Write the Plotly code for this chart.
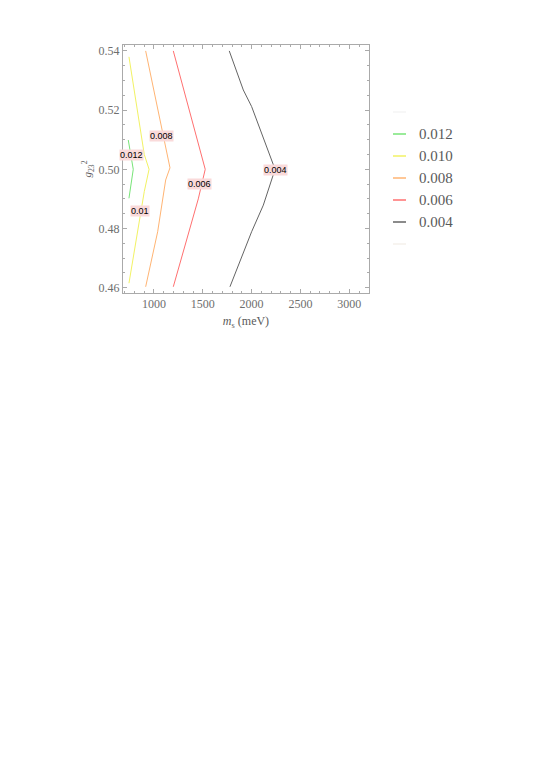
import plotly.graph_objects as go

# contour levels
levels = ["0.012", "0.010", "0.008", "0.006", "0.004"]
label_text = ["0.012", "0.01", "0.008", "0.006", "0.004"]

# contour polylines (m_s in meV, g^2)
green_x = [737, 788, 744]
green_y = [0.5099, 0.5000, 0.4902]
yellow_x = [744, 901, 950, 901, 744]
yellow_y = [0.538, 0.505, 0.500, 0.4925, 0.4615]
orange_x = [915, 1003, 1113, 1164, 1120, 1038, 915]
orange_y = [0.540, 0.5257, 0.5088, 0.5005, 0.4964, 0.4789, 0.4603]
red_x = [1198, 1437, 1525, 1454, 1198]
red_y = [0.540, 0.511, 0.500, 0.490, 0.4603]
black_x = [1771, 1915, 2000, 2240, 2120, 2000, 1778]
black_y = [0.540, 0.5268, 0.5212, 0.500, 0.4879, 0.4789, 0.4603]

# label positions
label_x = [772, 860, 1082, 1471, 2249]
label_y = [0.5047, 0.4859, 0.5112, 0.4951, 0.4997]

xs = [green_x, yellow_x, orange_x, red_x, black_x]
ys = [green_y, yellow_y, orange_y, red_y, black_y]
colors = ["rgb(120,228,120)", "rgb(242,242,100)", "rgb(255,180,115)",
          "rgb(255,112,112)", "rgb(100,100,100)"]

fig = go.Figure()
for x, y, c, name in zip(xs, ys, colors, levels):
    fig.add_trace(go.Scatter(x=x, y=y, mode="lines", name=name,
                             line=dict(color=c, width=1), showlegend=False,
                             hoverinfo="skip"))

for lx, ly, t in zip(label_x, label_y, label_text):
    fig.add_annotation(x=lx, y=ly, text=t, showarrow=False,
                       font=dict(family="Arial", size=9, color="black"),
                       bgcolor="rgb(250,218,218)", borderpad=0)

# page offset from default body margin
OFF = 8
FW, FH = 540 - 2 * OFF, 764 - 2 * OFF
L, R, T, B = 123 - OFF, 369 - OFF, 45 - OFF, 293 - OFF
W, H = R - L, B - T

def px2paper(px, py):
    return (px - OFF - L) / W, (B - (py - OFF)) / H

leg_items = [("", "rgb(245,245,245)")] + list(zip(levels, colors)) + [("", "rgb(245,240,235)")]
y0 = 112
for i, (txt, c) in enumerate(leg_items):
    py = y0 + i * 22
    xa, ya = px2paper(393, py)
    xb, _ = px2paper(406, py)
    fig.add_shape(type="line", xref="paper", yref="paper", x0=xa, x1=xb, y0=ya, y1=ya,
                  line=dict(color=c, width=1.5))
    if txt:
        xt, yt = px2paper(417, py)
        fig.add_annotation(xref="paper", yref="paper", x=xt, y=yt, text=txt,
                           showarrow=False, xanchor="left", yanchor="middle",
                           font=dict(family="Liberation Serif", size=15, color="rgb(90,90,90)"))

axis_common = dict(showline=True, linecolor="rgb(170,170,170)", linewidth=1, mirror="allticks",
                   ticks="inside", ticklen=4, tickcolor="rgb(170,170,170)", showgrid=False,
                   zeroline=False, automargin=False,
                   tickfont=dict(family="Liberation Serif", size=12, color="rgb(110,110,110)"))

fig.update_xaxes(range=[683, 3202], tickvals=[1000, 1500, 2000, 2500, 3000],
                 minor=dict(ticks="inside", ticklen=2, dtick=100, tick0=0,
                            tickcolor="rgb(170,170,170)"),
                 title=dict(text="<i>m</i><sub>s</sub> (meV)", standoff=6,
                            font=dict(family="Liberation Serif", size=12, color="rgb(90,90,90)")),
                 **axis_common)
fig.update_yaxes(range=[0.4582, 0.542], tickvals=[0.46, 0.48, 0.50, 0.52, 0.54],
                 ticktext=["0.46", "0.48", "0.50", "0.52", "0.54"],
                 minor=dict(ticks="inside", ticklen=2, dtick=0.005, tick0=0,
                            tickcolor="rgb(170,170,170)"),
                 title=dict(text="<i>g</i><sub>23</sub><sup>2</sup>", standoff=4,
                            font=dict(family="Liberation Serif", size=11, color="rgb(90,90,90)")),
                 **axis_common)

fig.update_layout(width=FW, height=FH, margin=dict(l=L, r=FW - R, t=T, b=FH - B),
                  plot_bgcolor="white", paper_bgcolor="white", showlegend=False)

fig.write_html("out.html")
